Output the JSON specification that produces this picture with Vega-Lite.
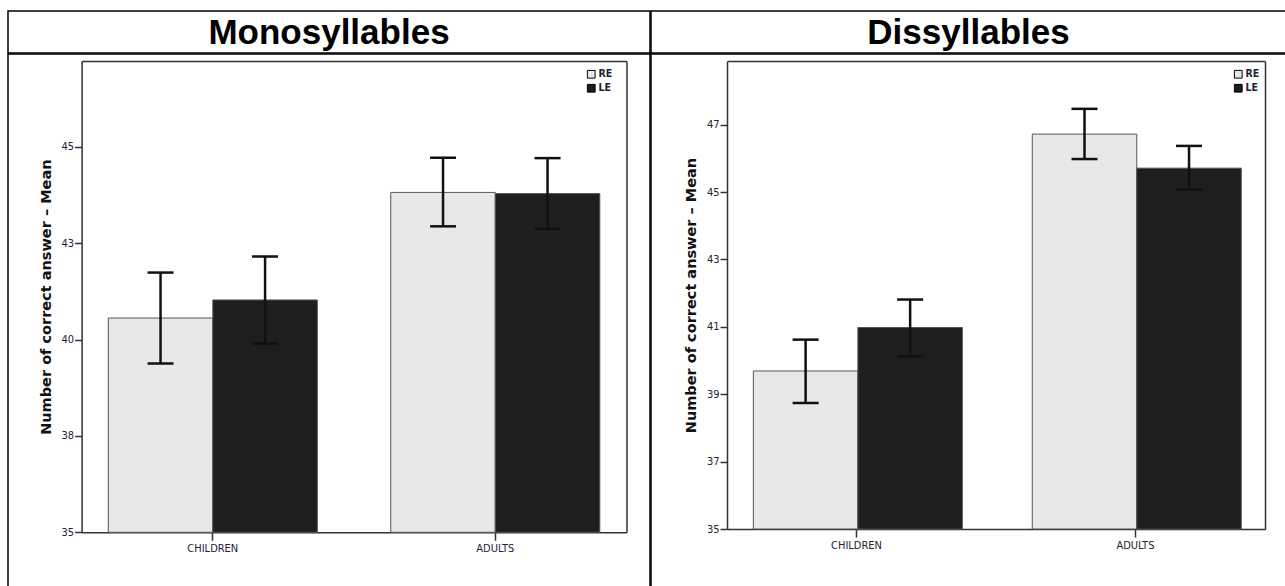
{
  "$schema": "https://vega.github.io/schema/vega-lite/v6.json",
  "padding": {"left": 7, "top": 10, "right": 0, "bottom": 0},
  "background": "white",
  "spacing": -1.5,
  "resolve": {"scale": {"color": "independent"}, "legend": {"color": "independent"}},
  "datasets": {
    "mono": [
      {"group": "CHILDREN", "eye": "RE", "mean": 40.56, "lo": 39.38, "hi": 41.74},
      {"group": "CHILDREN", "eye": "LE", "mean": 41.03, "lo": 39.9, "hi": 42.16},
      {"group": "ADULTS", "eye": "RE", "mean": 43.82, "lo": 42.94, "hi": 44.72},
      {"group": "ADULTS", "eye": "LE", "mean": 43.79, "lo": 42.87, "hi": 44.71}
    ],
    "dis": [
      {"group": "CHILDREN", "eye": "RE", "mean": 39.69, "lo": 38.74, "hi": 40.62},
      {"group": "CHILDREN", "eye": "LE", "mean": 40.98, "lo": 40.12, "hi": 41.81},
      {"group": "ADULTS", "eye": "RE", "mean": 46.72, "lo": 45.98, "hi": 47.47},
      {"group": "ADULTS", "eye": "LE", "mean": 45.71, "lo": 45.07, "hi": 46.37}
    ],
    "t1": [{"t": "Monosyllables"}],
    "t2": [{"t": "Dissyllables"}]
  },
  "config": {
    "view": {"stroke": "#000000", "strokeWidth": 1.5},
    "axis": {
      "grid": false,
      "labelFont": "Liberation Sans Narrow, Arial Narrow, DejaVu Sans Condensed, sans-serif",
      "labelFontSize": 11,
      "labelColor": "#222233",
      "domainColor": "#333333",
      "domainWidth": 1.5,
      "tickColor": "#333333",
      "tickWidth": 1.5
    },
    "legend": {
      "labelFont": "Liberation Sans Narrow, Arial Narrow, DejaVu Sans Condensed, sans-serif",
      "labelFontSize": 10.5,
      "labelFontWeight": "bold",
      "labelColor": "#222233"
    }
  },
  "hconcat": [
    {
      "spacing": -1.5,
      "resolve": {"scale": {"color": "independent"}, "legend": {"color": "independent"}},
      "vconcat": [
        {
          "width": 642, "height": 42,
          "data": {"name": "t1"},
          "mark": {"type": "text", "font": "Liberation Sans", "fontWeight": "bold", "fontSize": 35, "baseline": "middle", "dy": 1, "color": "#000000"},
          "encoding": {
            "x": {"field": "t", "type": "nominal", "axis": null},
            "y": {"field": "t", "type": "nominal", "axis": null},
            "text": {"field": "t"}
          }
        },
        {
          "width": 642, "height": 540,
          "data": {"name": "mono"},
          "layer": [
            {
              "mark": {"type": "bar", "strokeWidth": 1, "stroke": "#555555"},
              "encoding": {
                "x": {"field": "group", "type": "nominal", "sort": ["CHILDREN", "ADULTS"],
                  "scale": {"range": [73.6, 618.5], "paddingInner": 0.26, "paddingOuter": 0.0945},
                  "axis": {"orient": "bottom", "offset": -61.7, "title": null, "labelAngle": 0, "tickSize": 8, "labelPadding": 2}},
                "xOffset": {"field": "eye", "type": "nominal", "sort": ["RE", "LE"]},
                "y": {"field": "mean", "type": "quantitative",
                  "scale": {"domain": [35, 47.23], "range": [478.3, 7], "nice": false, "zero": false},
                  "axis": {"orient": "left", "offset": -73.6, "values": [35, 37.5, 40, 42.5, 45], "format": ".0f", "tickSize": 7, "labelPadding": 1,
                    "title": "Number of correct answer – Mean", "titleFont": "DejaVu Sans", "titleFontWeight": "bold", "titleFontSize": 14.5, "titleColor": "#111111", "titlePadding": 8}},
                "y2": {"datum": 35},
                "color": {"field": "eye", "type": "nominal",
                  "scale": {"domain": ["RE", "LE"], "range": ["#e8e8e8", "#1e1e1e"]},
                  "legend": {"title": null, "orient": "none", "legendX": 578, "legendY": 15, "symbolType": "square", "symbolSize": 60, "symbolStrokeColor": "#000000", "symbolStrokeWidth": 1, "rowPadding": 1, "labelOffset": 2, "padding": 0}}
              }
            },
            {
              "mark": {"type": "rule", "strokeWidth": 2.5, "color": "#111111"},
              "encoding": {
                "x": {"field": "group", "type": "nominal", "sort": ["CHILDREN", "ADULTS"], "axis": null},
                "xOffset": {"field": "eye", "type": "nominal", "sort": ["RE", "LE"]},
                "y": {"field": "lo", "type": "quantitative", "axis": null},
                "y2": {"field": "hi"}
              }
            },
            {
              "mark": {"type": "tick", "thickness": 2.5, "size": 26, "color": "#111111", "opacity": 1},
              "encoding": {
                "x": {"field": "group", "type": "nominal", "sort": ["CHILDREN", "ADULTS"], "axis": null},
                "xOffset": {"field": "eye", "type": "nominal", "sort": ["RE", "LE"]},
                "y": {"field": "lo", "type": "quantitative", "axis": null}
              }
            },
            {
              "mark": {"type": "tick", "thickness": 2.5, "size": 26, "color": "#111111", "opacity": 1},
              "encoding": {
                "x": {"field": "group", "type": "nominal", "sort": ["CHILDREN", "ADULTS"],
                  "axis": {"orient": "top", "offset": -7, "labels": false, "ticks": false, "title": null, "domain": true}},
                "xOffset": {"field": "eye", "type": "nominal", "sort": ["RE", "LE"]},
                "y": {"field": "hi", "type": "quantitative",
                  "axis": {"orient": "right", "offset": -23.5, "labels": false, "ticks": false, "title": null, "domain": true}}
              }
            }
          ],
          "resolve": {"axis": {"x": "independent", "y": "independent"}}
        }
      ]
    },
    {
      "spacing": -1.5,
      "resolve": {"scale": {"color": "independent"}, "legend": {"color": "independent"}},
      "vconcat": [
        {
          "width": 635, "height": 42,
          "data": {"name": "t2"},
          "mark": {"type": "text", "font": "Liberation Sans", "fontWeight": "bold", "fontSize": 35, "baseline": "middle", "dy": 1, "color": "#000000"},
          "encoding": {
            "x": {"field": "t", "type": "nominal", "axis": null},
            "y": {"field": "t", "type": "nominal", "axis": null},
            "text": {"field": "t"}
          }
        },
        {
          "width": 635, "height": 540,
          "data": {"name": "dis"},
          "layer": [
            {
              "mark": {"type": "bar", "strokeWidth": 1, "stroke": "#555555"},
              "encoding": {
                "x": {"field": "group", "type": "nominal", "sort": ["CHILDREN", "ADULTS"],
                  "scale": {"range": [76, 614], "paddingInner": 0.26, "paddingOuter": 0.0945},
                  "axis": {"orient": "bottom", "offset": -65, "title": null, "labelAngle": 0, "tickSize": 8, "labelPadding": 2}},
                "xOffset": {"field": "eye", "type": "nominal", "sort": ["RE", "LE"]},
                "y": {"field": "mean", "type": "quantitative",
                  "scale": {"domain": [35, 48.89], "range": [475, 7], "nice": false, "zero": false},
                  "axis": {"orient": "left", "offset": -76, "values": [35, 37, 39, 41, 43, 45, 47], "format": ".0f", "tickSize": 7, "labelPadding": 1,
                    "title": "Number of correct answer – Mean", "titleFont": "DejaVu Sans", "titleFontWeight": "bold", "titleFontSize": 14.5, "titleColor": "#111111", "titlePadding": 8}},
                "y2": {"datum": 35},
                "color": {"field": "eye", "type": "nominal",
                  "scale": {"domain": ["RE", "LE"], "range": ["#e8e8e8", "#1e1e1e"]},
                  "legend": {"title": null, "orient": "none", "legendX": 582, "legendY": 15, "symbolType": "square", "symbolSize": 60, "symbolStrokeColor": "#000000", "symbolStrokeWidth": 1, "rowPadding": 1, "labelOffset": 2, "padding": 0}}
              }
            },
            {
              "mark": {"type": "rule", "strokeWidth": 2.5, "color": "#111111"},
              "encoding": {
                "x": {"field": "group", "type": "nominal", "sort": ["CHILDREN", "ADULTS"], "axis": null},
                "xOffset": {"field": "eye", "type": "nominal", "sort": ["RE", "LE"]},
                "y": {"field": "lo", "type": "quantitative", "axis": null},
                "y2": {"field": "hi"}
              }
            },
            {
              "mark": {"type": "tick", "thickness": 2.5, "size": 26, "color": "#111111", "opacity": 1},
              "encoding": {
                "x": {"field": "group", "type": "nominal", "sort": ["CHILDREN", "ADULTS"], "axis": null},
                "xOffset": {"field": "eye", "type": "nominal", "sort": ["RE", "LE"]},
                "y": {"field": "lo", "type": "quantitative", "axis": null}
              }
            },
            {
              "mark": {"type": "tick", "thickness": 2.5, "size": 26, "color": "#111111", "opacity": 1},
              "encoding": {
                "x": {"field": "group", "type": "nominal", "sort": ["CHILDREN", "ADULTS"],
                  "axis": {"orient": "top", "offset": -7, "labels": false, "ticks": false, "title": null, "domain": true}},
                "xOffset": {"field": "eye", "type": "nominal", "sort": ["RE", "LE"]},
                "y": {"field": "hi", "type": "quantitative",
                  "axis": {"orient": "right", "offset": -21, "labels": false, "ticks": false, "title": null, "domain": true}}
              }
            }
          ],
          "resolve": {"axis": {"x": "independent", "y": "independent"}}
        }
      ]
    }
  ]
}
